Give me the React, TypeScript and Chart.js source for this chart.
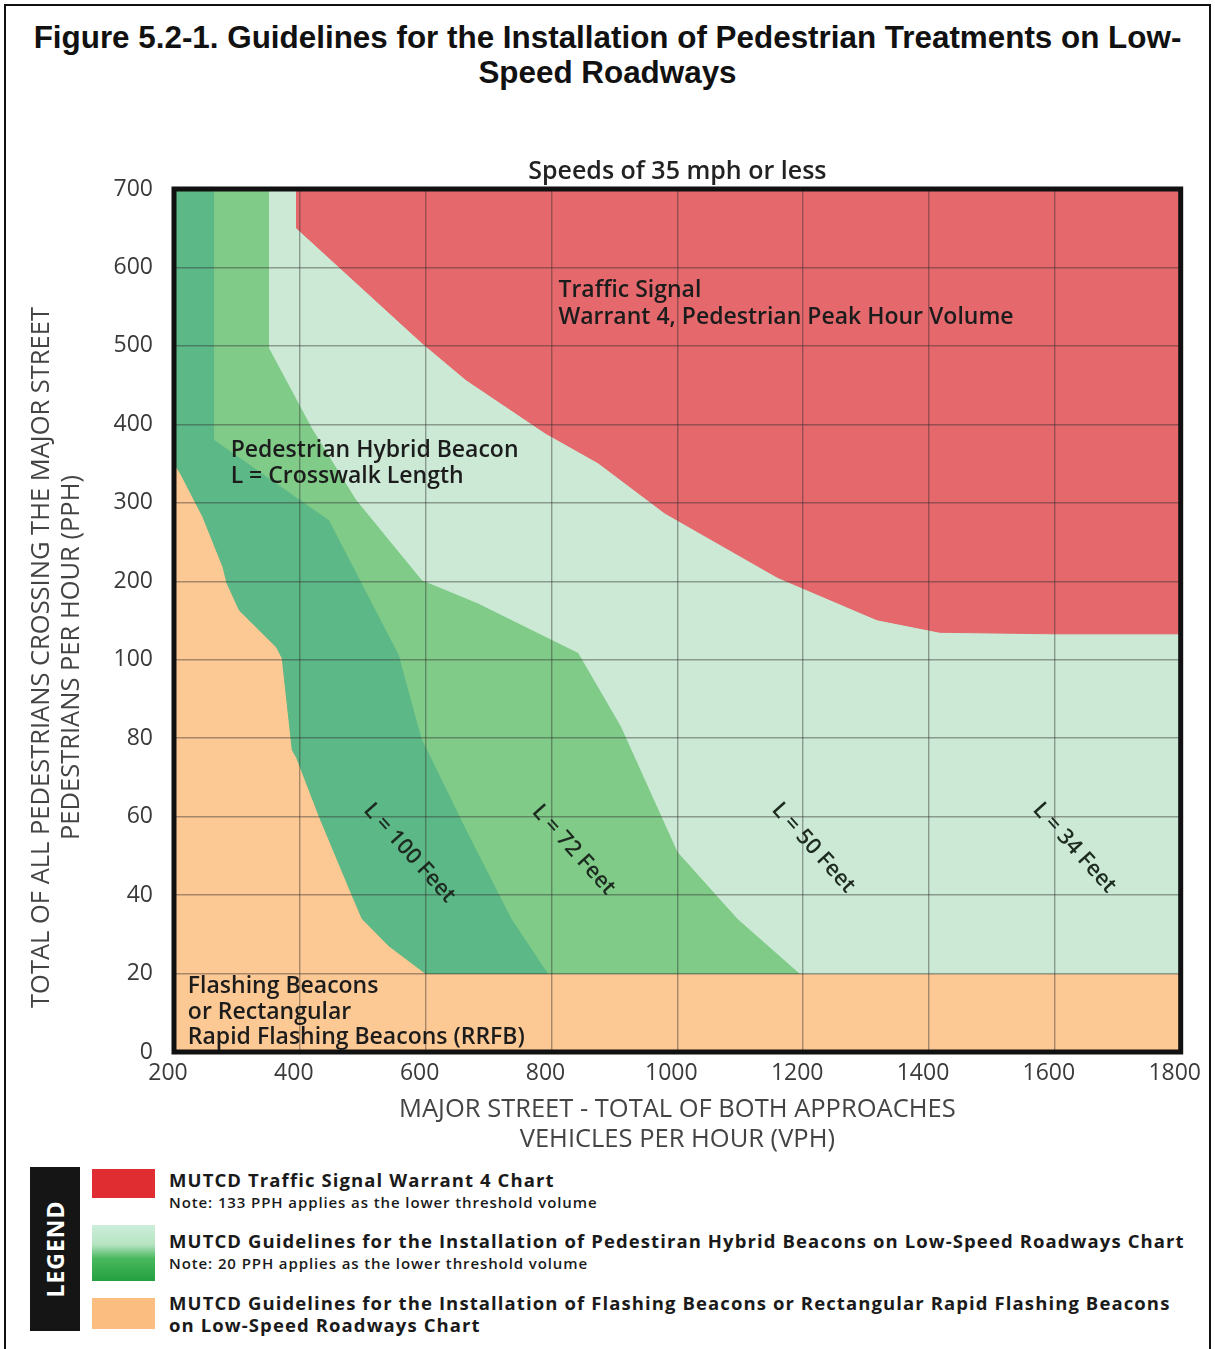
import React, { useEffect, useRef } from "react";
import { Chart, registerables } from "chart.js";

Chart.register(...registerables);

// ---------- axis values ----------
const X_TICKS = [200, 400, 600, 800, 1000, 1200, 1400, 1600, 1800];
const Y_TICK_LABELS = [0, 20, 40, 60, 80, 100, 200, 300, 400, 500, 600, 700];

// ---------- region boundaries (VPH, PPH) ----------
// whole plot (background: flashing beacons / RRFB)
const FULL_VPH = [200, 1800];
const FULL_PPH = [700, 700];

// L = 100 ft curve (edge of RRFB region)
const L100_VPH = [200, 210, 246, 278, 284, 304, 363, 372, 388, 395, 431, 483, 499, 542, 600, 1800];
const L100_PPH = [350, 338, 282, 218, 198, 163, 116, 102, 77, 75, 60, 40, 34, 27, 20, 20];

// L = 72 ft curve
const L72_VPH = [200, 265, 265, 447, 558, 594, 664, 737, 795, 1800];
const L72_PPH = [700, 700, 380, 278, 106, 80, 57, 34, 20, 20];

// L = 50 ft curve
const L50_VPH = [200, 352, 352, 420, 490, 594, 684, 843, 911, 1001, 1096, 1195, 1800];
const L50_PPH = [700, 700, 497, 395, 304, 202, 172, 109, 83, 51, 34, 20, 20];

// MUTCD Traffic Signal Warrant 4 (pedestrian peak hour)
const SIGNAL_VPH = [200, 395, 395, 594, 664, 790, 874, 980, 1159, 1317, 1417, 1600, 1800];
const SIGNAL_PPH = [700, 700, 650, 504, 457, 389, 351, 287, 205, 151, 135, 133, 133];

// ---------- text in the plot ----------
const REGION_TEXT = [
  { text: "Traffic Signal", vph: 811, pph: 571 },
  { text: "Warrant 4, Pedestrian Peak Hour Volume", vph: 811, pph: 536 },
  { text: "Pedestrian Hybrid Beacon", vph: 290, pph: 367 },
  { text: "L = Crosswalk Length", vph: 290, pph: 333 },
  { text: "Flashing Beacons", vph: 222, pph: 16.8 },
  { text: "or Rectangular", vph: 222, pph: 10.2 },
  { text: "Rapid Flashing Beacons (RRFB)", vph: 222, pph: 3.6 },
];
const CURVE_TEXT = [
  { text: "L = 100 Feet", vph: 574, pph: 50.7 },
  { text: "L = 72 Feet", vph: 835, pph: 51.5 },
  { text: "L = 50 Feet", vph: 1216, pph: 52 },
  { text: "L = 34 Feet", vph: 1631, pph: 52 },
];
const Y_TITLE = ["TOTAL OF ALL PEDESTRIANS CROSSING THE MAJOR STREET", "PEDESTRIANS PER HOUR (PPH)"];
const X_TITLE = ["MAJOR STREET - TOTAL OF BOTH APPROACHES", "VEHICLES PER HOUR (VPH)"];

const RED = "#e4686c";
const PALE = "#cbe9d5";
const MEDIUM = "#80cb88";
const TEAL = "#5cb886";
const ORANGE = "#fcc894";
const GRID = "rgba(50,45,45,0.42)";
const FONT = "'Open Sans', 'DejaVu Sans', sans-serif";

// piecewise scale: the y axis is evenly spaced by tick, not by value
function pphToIndex(p: number): number {
  for (let k = 0; k < Y_TICK_LABELS.length - 1; k++) {
    const a = Y_TICK_LABELS[k];
    const b = Y_TICK_LABELS[k + 1];
    if (p <= b) return k + (p - a) / (b - a);
  }
  return Y_TICK_LABELS.length - 1;
}

function pts(xs: number[], ys: number[]) {
  return xs.map((x, i) => ({ x, y: pphToIndex(ys[i]) }));
}

const framePlugin = {
  id: "frameAndText",
  afterDraw(chart: any) {
    const { ctx, chartArea, scales } = chart;
    const { left, top, right, bottom } = chartArea;
    ctx.save();
    // thick plot frame
    ctx.strokeStyle = "#111";
    ctx.lineWidth = 5;
    ctx.strokeRect(left, top, right - left, bottom - top);

    // region texts
    ctx.fillStyle = "#1c1c1c";
    ctx.font = `600 23px ${FONT}`;
    ctx.textAlign = "left";
    ctx.textBaseline = "middle";
    for (const t of REGION_TEXT) {
      const px = scales.x.getPixelForValue(t.vph);
      const py = scales.y.getPixelForValue(pphToIndex(t.pph));
      ctx.fillText(t.text, px, py);
    }
    // curve labels
    ctx.font = `600 22px ${FONT}`;
    ctx.textAlign = "center";
    for (const t of CURVE_TEXT) {
      const px = scales.x.getPixelForValue(t.vph);
      const py = scales.y.getPixelForValue(pphToIndex(t.pph));
      ctx.save();
      ctx.translate(px, py);
      ctx.rotate((48 * Math.PI) / 180);
      ctx.fillStyle = "#1d2b20";
      ctx.fillText(t.text, 0, 0);
      ctx.restore();
    }
    // y axis title
    ctx.fillStyle = "#444";
    ctx.font = `400 25.5px ${FONT}`;
    ctx.textAlign = "center";
    const cy = (top + bottom) / 2 + 37;
    Y_TITLE.forEach((line, i) => {
      ctx.save();
      ctx.translate(left - 132 + i * 30, cy);
      ctx.rotate(-Math.PI / 2);
      ctx.fillText(line, 0, 0);
      ctx.restore();
    });
    ctx.restore();
  },
};

function ChartCanvas() {
  const ref = useRef<HTMLCanvasElement | null>(null);
  useEffect(() => {
    if (!ref.current) return;
    const area = (data: any, color: string, fill: any, order: number, label: string) => ({
      label,
      data,
      fill,
      order,
      backgroundColor: color,
      borderColor: color,
      borderWidth: 1,
      pointRadius: 0,
      tension: 0,
    });
    const chart = new Chart(ref.current, {
      type: "line",
      data: {
        datasets: [
          area(pts(SIGNAL_VPH, SIGNAL_PPH), RED, "end", 0, "MUTCD Traffic Signal Warrant 4"),
          area(pts(L50_VPH, L50_PPH), PALE, "end", 1, "PHB L = 50 / 34 ft"),
          area(pts(L72_VPH, L72_PPH), MEDIUM, "end", 2, "PHB L = 72 ft"),
          area(pts(L100_VPH, L100_PPH), TEAL, "end", 3, "PHB L = 100 ft"),
          area(pts(FULL_VPH, FULL_PPH), ORANGE, "start", 4, "Flashing Beacons / RRFB"),
        ] as any,
      },
      options: {
        responsive: false,
        animation: false,
        events: [],
        layout: { padding: { left: 0, top: 157, right: 30, bottom: 0 } },
        plugins: {
          legend: { display: false },
          tooltip: { enabled: false },
          title: {
            display: true,
            text: "Speeds of 35 mph or less",
            fullSize: false,
            color: "#222",
            font: { family: FONT, size: 25, weight: "600", lineHeight: 1.2 },
            padding: { top: 0, bottom: 2 },
          } as any,
        },
        scales: {
          x: {
            type: "linear",
            min: 200,
            max: 1800,
            afterBuildTicks: (s: any) => {
              s.ticks = X_TICKS.map((v) => ({ value: v }));
            },
            afterFit: (s: any) => {
              s.height = 110;
            },
            ticks: {
              color: "#3a3a3a",
              font: { family: FONT, size: 23 },
              padding: 8,
              labelOffset: -6,
              maxRotation: 0,
              autoSkip: false,
              callback: (v: any) => String(v),
            },
            grid: { color: GRID, lineWidth: 1.4, drawTicks: false, z: 1 } as any,
            border: { display: false },
            title: {
              display: true,
              text: X_TITLE,
              color: "#444",
              font: { family: FONT, size: 25.5, lineHeight: 1.18 },
              padding: { top: 0, bottom: 7 },
            },
          },
          y: {
            type: "linear",
            min: 0,
            max: Y_TICK_LABELS.length - 1,
            afterBuildTicks: (s: any) => {
              s.ticks = Y_TICK_LABELS.map((_, i) => ({ value: i }));
            },
            afterFit: (s: any) => {
              s.width = 174;
            },
            ticks: {
              color: "#3a3a3a",
              font: { family: FONT, size: 23 },
              padding: 21,
              callback: (v: any) => String(Y_TICK_LABELS[Math.round(v)]),
              autoSkip: false,
            },
            grid: { color: GRID, lineWidth: 1.4, drawTicks: false, z: 1 } as any,
            border: { display: false },
          },
        },
      },
      plugins: [framePlugin],
    });
    return () => chart.destroy();
  }, []);
  return (
    <canvas
      ref={ref}
      width={1215}
      height={1162}
      style={{ position: "absolute", left: 0, top: 0, width: 1215, height: 1162 }}
    />
  );
}

const LEGEND_ROWS = [
  { title: "MUTCD Traffic Signal Warrant 4 Chart", note: "Note: 133 PPH applies as the lower threshold volume", y: 1180 },
  {
    title: "MUTCD Guidelines for the Installation of Pedestiran Hybrid Beacons on Low-Speed Roadways Chart",
    note: "Note: 20 PPH applies as the lower threshold volume",
    y: 1241,
  },
  {
    title: "MUTCD Guidelines for the Installation of Flashing Beacons or Rectangular Rapid Flashing Beacons",
    note: "on Low-Speed Roadways Chart",
    y: 1303,
    noteBold: true,
  },
];

export default function App() {
  useEffect(() => {
    document.body.style.margin = "0";
  }, []);
  const textLine = (text: string, cy: number, size: number, weight: number, spacing: number) => (
    <div
      key={text}
      style={{
        position: "absolute",
        left: 169,
        top: cy - 12,
        height: 24,
        lineHeight: "24px",
        fontFamily: FONT,
        fontSize: size,
        fontWeight: weight,
        letterSpacing: spacing,
        color: "#1a1a1a",
        whiteSpace: "nowrap",
      }}
    >
      {text}
    </div>
  );
  return (
    <div style={{ position: "relative", width: 1215, height: 1349, overflow: "hidden", background: "#fff" }}>
      <div
        style={{
          position: "absolute",
          left: 4,
          top: 4,
          width: 1203,
          height: 1360,
          border: "2px solid #111",
          borderBottom: "none",
        }}
      />
      <div
        style={{
          position: "absolute",
          left: 0,
          top: 20,
          width: 1215,
          textAlign: "center",
          fontFamily: "'Liberation Sans', Arial, sans-serif",
          fontWeight: 700,
          fontSize: 31.4,
          lineHeight: "35px",
          color: "#111",
          whiteSpace: "nowrap",
        }}
      >
        Figure 5.2-1. Guidelines for the Installation of Pedestrian Treatments on Low-
        <br />
        Speed Roadways
      </div>
      <ChartCanvas />
      {/* legend */}
      <div style={{ position: "absolute", left: 30, top: 1167, width: 50, height: 164, background: "#151515" }}>
        <div
          style={{
            position: "absolute",
            left: "50%",
            top: "50%",
            transform: "translate(-50%, -50%) rotate(-90deg)",
            color: "#fff",
            fontFamily: FONT,
            fontWeight: 700,
            fontSize: 23,
            letterSpacing: 1,
          }}
        >
          LEGEND
        </div>
      </div>
      <div style={{ position: "absolute", left: 92, top: 1169, width: 63, height: 29, background: "#df2d31" }} />
      <div
        style={{
          position: "absolute",
          left: 92,
          top: 1225,
          width: 63,
          height: 56,
          background: "linear-gradient(#cdeedb 0%, #b6e4c2 35%, #49b85d 60%, #23a03f 100%)",
        }}
      />
      <div style={{ position: "absolute", left: 92, top: 1298, width: 63, height: 31, background: "#fbbd80" }} />
      {LEGEND_ROWS.map((r) => [
        textLine(r.title, r.y, 18.5, 700, 1.1),
        r.noteBold ? textLine(r.note, r.y + 22, 18.5, 700, 1.1) : textLine(r.note, r.y + 22, 15, 600, 0.9),
      ])}
    </div>
  );
}
